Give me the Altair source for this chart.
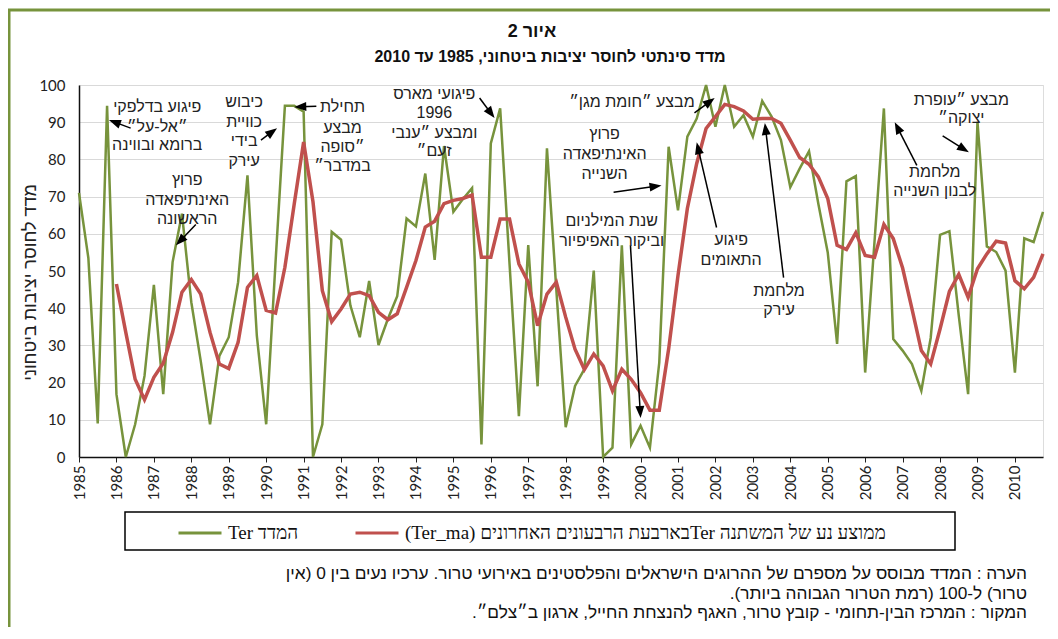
import math
import altair as alt
import pandas as pd

# ---------------- data ----------------
START_YEAR = 1985
MA_START = 4  # moving average starts at 1986 Q1

ter = [71, 53.5, 9, 94.4, 16.9, 0, 8.8, 21.8, 46.3, 16.9, 52.4, 65.4,
       41.6, 25.9, 8.8, 27.2, 32.2, 47, 75.7, 32.6, 8.8, 52.4, 94.4, 94.4,
       92.8, 0, 8.8, 60.5, 58.4, 40.7, 32.2, 47.3, 30.1, 37.1, 43.2, 64.1,
       62, 76.2, 53, 83.6, 65.9, 69.3, 72.3, 3.4, 84.3, 93.7, 52, 11,
       57, 19, 83, 45, 8, 19.1, 23.6, 50.1, 0, 2.5, 56.9, 3.4,
       8.4, 2.5, 25.4, 83.4, 66.3, 86.1, 91, 100, 88.8, 100, 88.8, 91.9,
       86.1, 95.7, 91.5, 85.2, 72.5, 77.5, 82.2, 68, 55, 30.4, 74.1, 75.5,
       22.7, 58, 93.7, 31.7, 28.6, 25, 17.8, 32, 59.7, 60.7, 38, 16.9,
       90.1, 56.6, 55.1, 50.1, 22.7, 58.8, 57.8, 65.9]

ter_ma = [46.5, 33.5, 20.9, 15.4, 21.4, 25.2, 33.5, 44.3, 47.7, 43.8, 33.5, 25,
          23.8, 30.8, 45.6, 48.8, 39.4, 38.7, 51, 68.1, 84.7, 68.6, 44.7, 36.4,
          39.8, 43.8, 44.3, 43.4, 38.9, 36.9, 38.5, 45.6, 52.8, 61.8, 63.4, 68.1,
          69, 69.5, 70.4, 53.7, 53.7, 64, 64, 51.9, 47, 35.3, 43.8, 47,
          37.6, 29, 23.5, 27.7, 24.5, 17.8, 23.6, 20.9, 17.3, 12.6, 12.6, 29,
          48.8, 66.8, 78.9, 88.3, 91.5, 94.8, 94.2, 93, 90.8, 91, 91, 89.7,
          85.2, 80.5, 78.7, 75.3, 69.5, 56.9, 55.8, 60.3, 54.2, 53.7, 62.5, 58.7,
          50.8, 39.8, 28.6, 25, 34.4, 44.5, 49.1, 42.9, 50.6, 54.6, 58, 57.5,
          47.4, 45.2, 48.3, 54.6]

year_ticks = list(range(1985, 2011))
value_ticks = list(range(0, 101, 10))


def rtl(s):
    return "\u202b" + s + "\u202c"


LABEL_TER = rtl("המדד Ter")
LABEL_MA = rtl("ממוצע נע של המשתנה Terבארבעת הרבעונים האחרונים  (Ter_ma)")

title_lines = [rtl("איור 2"), rtl("מדד סינתטי לחוסר יציבות ביטחוני, 1985 עד  2010")]
Y_TITLE = rtl("מדד לחוסר יציבות ביטחוני")

# annotation text lines: text, year, value
ann_text = ["פיגוע בדלפקי", "״אל-על״", "ברומא ובווינה",
            "פרוץ", "האינתיפאדה", "הראשונה",
            "כיבוש", "כוויית", "בידי", "עירק",
            "תחילת", "מבצע", "״סופה", "במדבר״",
            "פיגועי מארס", "1996", "ומבצע ״ענבי", "זעם״",
            "מבצע ״חומת מגן״",
            "פרוץ", "האינתיפאדה", "השנייה",
            "שנת המילניום", "וביקור האפיפיור",
            "פיגוע", "התאומים",
            "מלחמת", "עירק",
            "מלחמת", "לבנון השנייה",
            "מבצע ״עופרת", "יצוקה״"]
ann_year = [1987.09, 1987.09, 1987.09,
            1987.89, 1987.89, 1987.89,
            1989.41, 1989.41, 1989.41, 1989.41,
            1992.04, 1992.04, 1992.04, 1992.04,
            1994.49, 1994.49, 1994.49, 1994.49,
            1999.77,
            1999.04, 1999.04, 1999.04,
            1999.23, 1999.23,
            2002.42, 2002.42,
            2003.70, 2003.70,
            2007.86, 2007.86,
            2008.57, 2008.57]
ann_value = [94.2, 88.8, 83.8,
             74.4, 69.0, 63.9,
             95.5, 90.1, 84.9, 79.5,
             94.1, 88.4, 83.3, 78.2,
             97.6, 92.6, 87.2, 82.2,
             95.5,
             86.7, 81.4, 76.0,
             63.4, 58.0,
             58.2, 53.0,
             44.7, 39.4,
             76.6, 71.4,
             96.0, 91.0]

# arrows: tail (year, value) -> head (year, value)
arrow_tail_year = [1986.38, 1988.12, 1989.86, 1991.34, 1995.70, 2001.44,
                   1999.28, 1999.73, 2002.03, 2003.82, 2007.38, 2008.07]
arrow_tail_value = [88.4, 62.5, 85.2, 94.3, 96.5, 92.5,
                    71.2, 56.9, 61.7, 48.2, 78.4, 86.3]
arrow_head_year = [1985.80, 1987.59, 1990.29, 1990.75, 1996.10, 2001.98,
                   2000.56, 2000.00, 2001.50, 2003.32, 2006.79, 2008.77]
arrow_head_value = [90.6, 56.9, 88.4, 94.1, 91.1, 96.5,
                    73.0, 10.5, 84.6, 89.8, 90.0, 81.9]

note_lines = [
    rtl("הערה : המדד מבוסס על מספרם של ההרוגים הישראלים והפלסטינים באירועי טרור. ערכיו נעים בין 0 (אין"),
    rtl("טרור) ל-100 (רמת הטרור הגבוהה ביותר)."),
    rtl("המקור : המרכז הבין-תחומי - קובץ טרור, האגף להנצחת החייל, ארגון ב״צלם״."),
]

# ---------------- layout ----------------
W, H = 964, 372
X_MIN, X_MAX = 1985, 2010.75
PX_YEAR = W / (X_MAX - X_MIN)
PX_VAL = H / 100.0
GREEN = "#77933C"
RED = "#C0504D"
SANS = "Liberation Sans"
SERIF = "Liberation Serif"

# ---------------- frames ----------------
df_ter = pd.DataFrame({
    "t": [START_YEAR + i / 4 for i in range(len(ter))],
    "v": ter,
    "series": LABEL_TER,
})
df_ma = pd.DataFrame({
    "t": [START_YEAR + (i + MA_START) / 4 for i in range(len(ter_ma))],
    "v": ter_ma,
    "series": LABEL_MA,
})
df_ann = pd.DataFrame({"t": ann_year, "v": ann_value,
                       "txt": [rtl(s) for s in ann_text]})

HEAD_LEN = 6.0
line_rows, head_rows = [], []
for tx, tv, hx, hv in zip(arrow_tail_year, arrow_tail_value, arrow_head_year, arrow_head_value):
    dx = (hx - tx) * PX_YEAR
    dy = -(hv - tv) * PX_VAL
    L = math.hypot(dx, dy)
    ang = math.degrees(math.atan2(dx, -dy)) % 360
    cx = hx - (HEAD_LEN * dx / L) / PX_YEAR
    cv = hv + (HEAD_LEN * dy / L) / PX_VAL
    line_rows.append({"t": tx, "v": tv, "t2": cx, "v2": cv})
    head_rows.append({"t": cx, "v": cv, "ang": ang})
df_arrow = pd.DataFrame(line_rows)
df_head = pd.DataFrame(head_rows)

x_scale = alt.Scale(domain=[X_MIN, X_MAX], nice=False, zero=False)
y_scale = alt.Scale(domain=[0, 100], nice=False, zero=True)

x_axis = alt.Axis(values=year_ticks, format="d", labelAngle=270, labelFont="Lato",
                  labelFontSize=15, labelColor="#222", labelFlush=False, labelOverlap=False,
                  labelPadding=3, tickSize=5, tickColor="#222", domainColor="#111",
                  domainWidth=1.5, grid=False, title=None)
y_axis = alt.Axis(values=value_ticks, labelFont="Lato", labelFontSize=15, labelColor="#222",
                  labelPadding=14, ticks=False, domainColor="#111", domainWidth=1.5,
                  grid=True, gridColor="#d9d9d9", gridWidth=1,
                  title=Y_TITLE, titleFont=SANS, titleFontSize=18, titleFontWeight="normal",
                  titleColor="#222", titleAngle=270, titleX=-49, titleY=197,
                  titleAlign="center", titleBaseline="middle")

X = alt.X("t:Q", scale=x_scale, axis=x_axis)
Y = alt.Y("v:Q", scale=y_scale, axis=y_axis)

color = alt.Color("series:N",
                  scale=alt.Scale(domain=[LABEL_TER, LABEL_MA], range=[GREEN, RED]),
                  legend=alt.Legend(orient="none", legendX=98, legendY=425, direction="horizontal",
                                    title=None, symbolType="stroke", symbolSize=1849,
                                    symbolStrokeWidth=3, labelFont=SERIF, labelFontSize=19,
                                    labelColor="#111", labelLimit=800, labelOffset=5,
                                    columnPadding=50, padding=0))

green_line = alt.Chart(df_ter).mark_line(strokeWidth=2.5).encode(x=X, y=Y, color=color)
red_line = alt.Chart(df_ma).mark_line(strokeWidth=3.5).encode(x=X, y=Y, color=color)

ann = alt.Chart(df_ann).mark_text(font=SANS, fontSize=16, color="#222", align="center",
                                  baseline="middle").encode(x=X, y=Y, text="txt:N")

arrow_lines = alt.Chart(df_arrow).mark_rule(color="black", strokeWidth=1.5).encode(
    x=X, y=Y, x2="t2:Q", y2="v2:Q")
arrow_heads = alt.Chart(df_head).mark_point(
    shape="M0,-1L-0.75,1L0.75,1Z", filled=True, color="black", opacity=1, size=144,
    strokeWidth=0).encode(x=X, y=Y, angle=alt.Angle("ang:Q", scale=None))

one = pd.DataFrame({"k": [0]})

# title lines (drawn as text so that the decorative frame does not push them away)
title_x = [453, 471]
title_y = [-53, -28]
title_size = [18, 16]
title_layers = [
    alt.Chart(pd.DataFrame({"txt": [line]})).mark_text(
        font=SANS, fontSize=fs, fontWeight="bold", color="#111", align="center",
        baseline="middle").encode(x=alt.value(xx), y=alt.value(yy), text="txt:N")
    for line, xx, yy, fs in zip(title_lines, title_x, title_y, title_size)
]

# legend box (decoration)
legend_box = alt.Chart(one).mark_rect(
    fill=None, stroke="black", strokeWidth=1.5).encode(
    x=alt.value(46), x2=alt.value(876), y=alt.value(427), y2=alt.value(465))

# notes, one layer per line
note_y = [489, 508.5, 528]
note_layers = [
    alt.Chart(pd.DataFrame({"txt": [line]})).mark_text(
        font=SANS, fontSize=17.3, color="#111", align="right", baseline="middle").encode(
        x=alt.value(948), y=alt.value(yy), text="txt:N")
    for line, yy in zip(note_lines, note_y)
]

# outer green frame (decoration)
frame_top = alt.Chart(one).mark_rule(color=GREEN, strokeWidth=3).encode(
    x=alt.value(-71), x2=alt.value(979), y=alt.value(-75))
frame_left = alt.Chart(one).mark_rule(color=GREEN, strokeWidth=3).encode(
    x=alt.value(-70), y=alt.value(-76), y2=alt.value(560))

chart = alt.layer(
    green_line, red_line, arrow_lines, arrow_heads, ann,
    frame_top, frame_left, legend_box, *title_layers, *note_layers
).properties(
    width=W, height=H,
    padding={"left": 71, "top": 77, "right": 7, "bottom": 170},
    autosize=alt.AutoSizeParams(type="none"),
).configure_view(
    stroke="#a6a6a6", strokeWidth=1.5
).configure(background="white")

chart.save("out.html", embed_options={"renderer": "svg", "actions": False})
